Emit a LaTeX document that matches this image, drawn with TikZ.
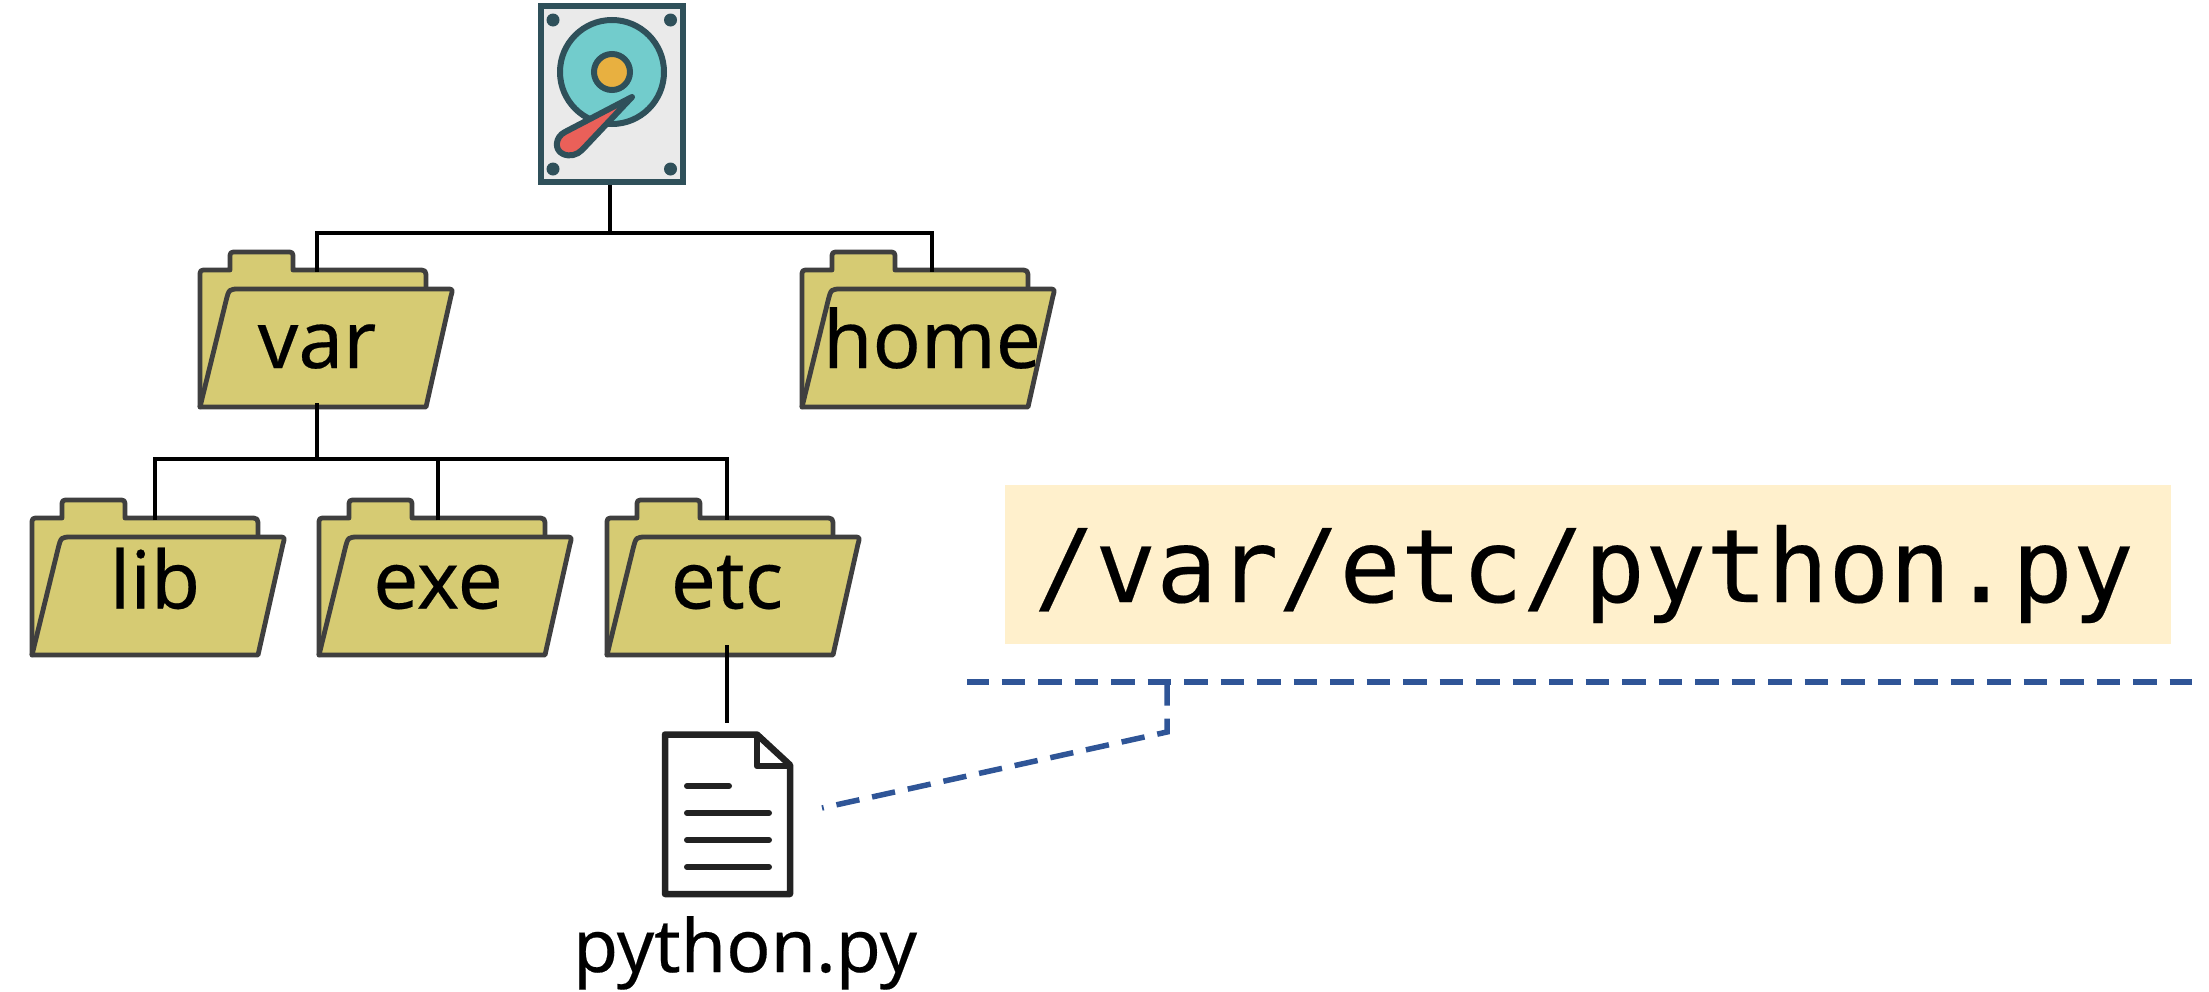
\documentclass[tikz,border=0pt]{standalone}
\usepackage{fontspec}
\setmainfont{Noto Sans}
\newfontfamily\labelfont[FakeBold=0.25]{Noto Sans}
\newfontfamily\pathfont[FakeBold=0.2]{DejaVu Sans Mono}
\usetikzlibrary{calc}
\definecolor{foldfill}{HTML}{D6CB73}
\definecolor{foldline}{HTML}{3F3F3F}
\definecolor{hddline}{HTML}{2F505A}
\definecolor{hddbody}{HTML}{EAEAEA}
\definecolor{hdddisk}{HTML}{72CCCC}
\definecolor{hddhub}{HTML}{E8B040}
\definecolor{hddarm}{HTML}{EA6059}
\definecolor{dashblue}{HTML}{2F5597}
\definecolor{pathbg}{HTML}{FFF0CC}
\definecolor{filedark}{HTML}{222222}
\tikzset{
  foldershape/.style={draw=foldline,fill=foldfill,line width=4.8pt,line join=round},
  foldertext/.style={anchor=base,font=\labelfont\fontsize{80}{80}\selectfont,inner sep=0pt,text=black},
  link/.style={draw=black,line width=3.5pt},
  dashlink/.style={draw=dashblue,line width=5.5pt,dash pattern=on 23.5pt off 13pt},
  hddpart/.style={draw=hddline,line width=6pt},
  filestroke/.style={draw=filedark,line width=6.5pt,line join=round},
  filerule/.style={draw=filedark,line width=6pt,line cap=round}
}
% #1 name, #2 left x, #3 bottom y, #4 text, #5 centre x, #6 baseline y
\newcommand{\folderat}[6]{%
  \begin{scope}[shift={(#2,#3)}]
    \path[foldershape] (0,0) -- (0,-130) .. controls (0,-137) .. (7,-137) -- (30,-137)
      -- (30,-148) .. controls (30,-155) .. (37,-155) -- (86,-155) .. controls (93,-155) .. (93,-148)
      -- (93,-137) -- (217,-137) .. controls (226,-137) .. (226,-128) -- (226,-110) -- cycle;
    \path[foldershape] (0,0) -- (26,-106) .. controls (29,-118) .. (40,-118) -- (246,-118)
      .. controls (253,-118) .. (251,-111) -- (226,0) -- cycle;
    \coordinate (#1 top) at (#5-#2,-135);
    \coordinate (#1 bottom) at (#5-#2,-10);
  \end{scope}
  \node[foldertext] (#1) at (#5,#6) {#4};%
}
\begin{document}
\begin{tikzpicture}[x=1pt,y=-1pt]
\useasboundingbox (0,0) rectangle (2209,991);
% hard disk
\node[hddpart,fill=hddbody,rectangle,minimum width=142pt,minimum height=176pt,inner sep=0pt] (hdd) at (612,94) {};
\foreach \px/\py in {553/20,670.5/20,553/169,670.5/169}
  \fill[hddline] (\px,\py) circle[radius=6.5pt];
\draw[hddpart,fill=hdddisk] (612,72) circle[radius=52pt];
\draw[hddpart,fill=hddhub] (612,72) circle[radius=18pt];
\draw[hddline,fill=hddarm,line width=6pt,line join=round]
  (632,97) -- (565,132) .. controls (555,137) and (554,150) .. (563,154)
  .. controls (570,157) and (577,155) .. (582,150) -- cycle;
% folders
\folderat{var}{200}{407}{var}{317}{368}
\folderat{home}{802}{407}{home}{932}{368}
\folderat{lib}{32}{655}{lib}{155}{608.5}
\folderat{exe}{319}{655}{exe}{438}{608.5}
\folderat{etc}{607}{655}{etc}{727}{608.5}
% file
\node[rectangle,minimum width=125pt,minimum height=160pt,inner sep=0pt] (file) at (727.5,814.5) {};
\path[filestroke,fill=white] (665,734.5) -- (757,734.5) -- (790,765) -- (790,894) -- (665,894) -- cycle;
\path[filestroke] (757,734.5) -- (757,766) -- (790,766);
\draw[filerule] (687,786) -- (729,786);
\foreach \ly in {813,840,867}
  \draw[filerule] (687,\ly) -- (769,\ly);
\node[anchor=base,font=\labelfont\fontsize{73.5}{73.5}\selectfont,inner sep=0pt] (pyname) at (745,972) {python.py};
% tree connectors
\coordinate (hub root) at (610,233);
\coordinate (hub var) at (317,459);
\coordinate (var foot) at (317,403);
\coordinate (file top) at (727,723);
\draw[link] (hdd.south -| hub root) -- (hub root);
\draw[link] (var top) |- (hub root) -| (home top);
\draw[link] (var foot) -- (hub var);
\draw[link] (lib top) |- (hub var) -| (etc top);
\draw[link] (exe top) -- (exe top |- hub var);
\draw[link] (etc bottom) -- (file top);
% path box
\node[fill=pathbg,inner sep=0pt,minimum width=1166pt,minimum height=159pt,anchor=north west] (pathbox) at (1005,485) {};
\node[anchor=base,font=\pathfont\fontsize{101.5}{101.5}\selectfont,inner sep=0pt] (pathtext) at (1584,602) {/var/etc/python.py};
% dashed guide
\coordinate (rule left) at (967,682);
\coordinate (rule right) at (2192,682);
\coordinate (rule branch) at (1167,682);
\coordinate (rule bend) at (1167,732);
\coordinate (rule end) at (822,808);
\draw[dashlink,dash phase=2pt] (rule left) -- (rule right);
\draw[dashlink] (rule branch) -- (rule bend) -- (rule end);
\end{tikzpicture}
\end{document}
